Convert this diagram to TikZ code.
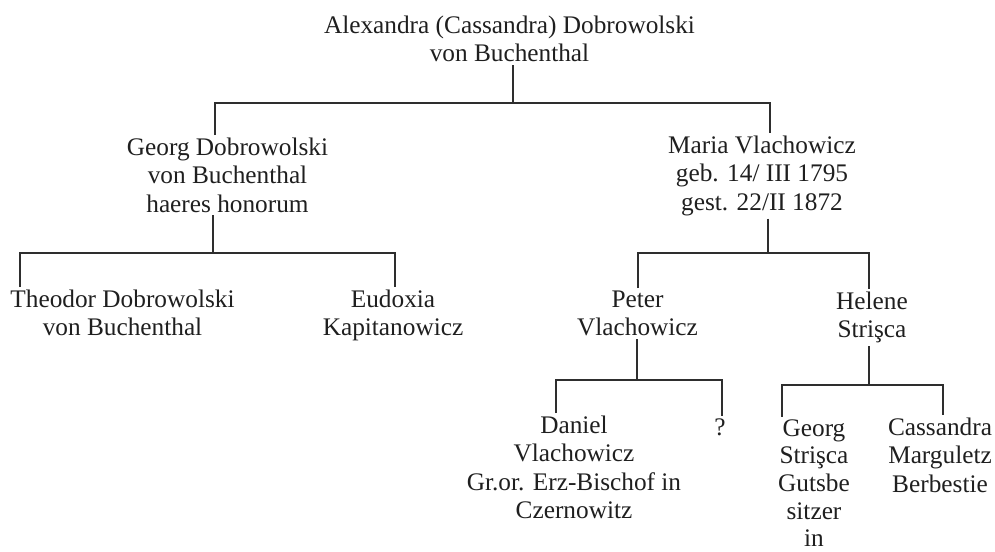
\documentclass[tikz,border=0pt]{standalone}
\usepackage{fontspec}
\setmainfont{Liberation Serif}
\begin{document}
\begin{tikzpicture}[x=1pt,y=-1pt,
  person/.style={anchor=north, align=center, inner sep=0pt, outer sep=3pt,
    text=black!88, font=\fontsize{25.3pt}{28.3pt}\selectfont},
  conn/.style={draw=black!82, line width=2.6pt, line join=miter}]
\useasboundingbox (0,0) rectangle (995,551);

% people
\node[person] (root)    at (509.5,13)  {Alexandra (Cassandra) Dobrowolski\\von Buchenthal};
\node[person] (georg)   at (227.5,135) {Georg Dobrowolski\\von Buchenthal\\haeres honorum};
\node[person] (maria)   at (762,133)   {Maria Vlachowicz\\geb. 14/ III 1795\\gest. 22/II 1872};
\node[person] (theodor) at (122.5,287) {Theodor Dobrowolski\\von Buchenthal};
\node[person] (eudoxia) at (393,287)   {Eudoxia\\Kapitanowicz};
\node[person] (peter)   at (637.5,288) {Peter\\Vlachowicz};
\node[person] (helene)  at (872,289)   {Helene\\Strişca};
\node[person] (daniel)  at (574,413)   {Daniel\\Vlachowicz\\Gr.or. Erz-Bischof in\\Czernowitz};
\node[person] (unknown) at (720,416)   {?};
\node[person, font=\fontsize{25.3pt}{27.6pt}\selectfont] (georgs) at (814,416.5) {Georg\\Strişca\\Gutsbe\\sitzer\\in};
\node[person] (cassm)   at (940,415)   {Cassandra\\Marguletz\\Berbestie};

% junction points
\coordinate (aM) at (513,103); \coordinate (aL) at (215,103); \coordinate (aR) at (770,103);
\coordinate (bM) at (213,253); \coordinate (bL) at (20,253);  \coordinate (bR) at (395,253);
\coordinate (cM) at (768,253); \coordinate (cL) at (638,253); \coordinate (cR) at (869,253);
\coordinate (dM) at (637,380); \coordinate (dL) at (556,380); \coordinate (dR) at (722,380);
\coordinate (eM) at (869,385); \coordinate (eL) at (782,385); \coordinate (eR) at (943,385);

% root family
\draw[conn] (root.south -| aM) -- (aM);
\draw[conn] (georg.north -| aL) -- (aL) -- (aR) -- (maria.north -| aR);
% Georg family
\draw[conn] (georg.south -| bM) -- (bM);
\draw[conn] (theodor.north -| bL) -- (bL) -- (bR) -- (eudoxia.north -| bR);
% Maria family
\draw[conn] (maria.south -| cM) -- (cM);
\draw[conn] (peter.north -| cL) -- (cL) -- (cR) -- (helene.north -| cR);
% Peter family
\draw[conn] (peter.south -| dM) -- (dM);
\draw[conn] (daniel.north -| dL) -- (dL) -- (dR) -- (unknown.north -| dR);
% Helene family
\draw[conn] (helene.south -| eM) -- (eM);
\draw[conn] (georgs.north -| eL) -- (eL) -- (eR) -- (cassm.north -| eR);
\end{tikzpicture}
\end{document}
